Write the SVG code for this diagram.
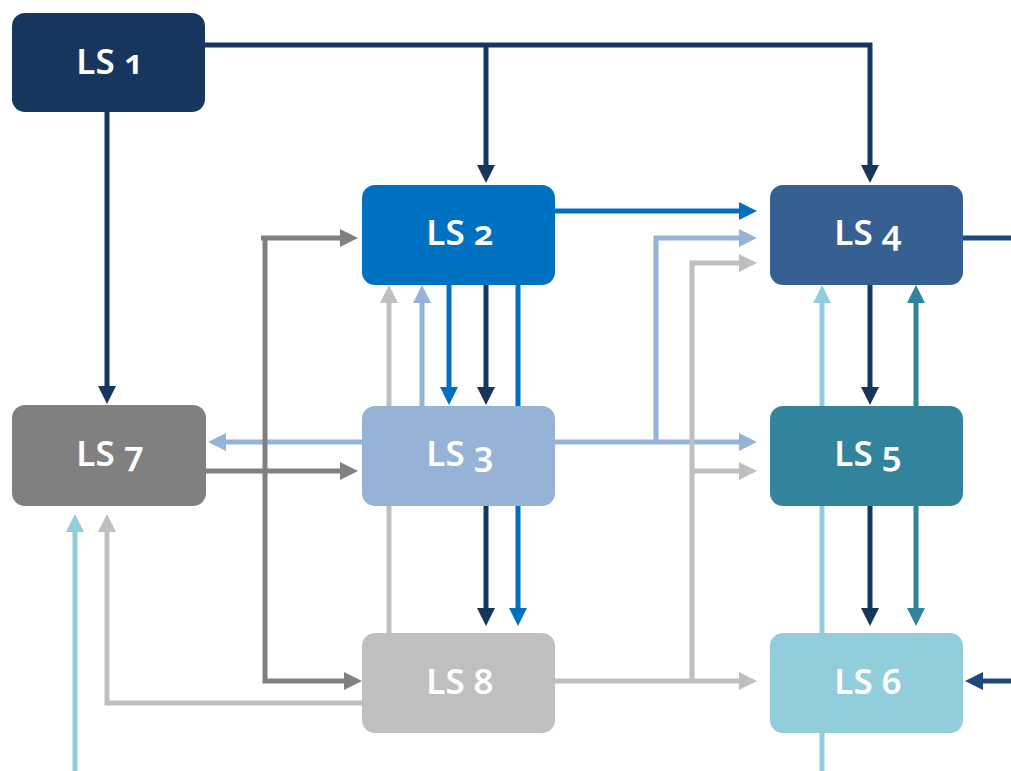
<svg xmlns="http://www.w3.org/2000/svg" width="1011" height="771" viewBox="0 0 1011 771">
  <style>
    .c { fill: none; stroke-width: 5; stroke-linejoin: miter; }
    .node text { font-family: "Noto Sans", "Open Sans", sans-serif; font-weight: 600; font-size: 35px; fill: #ffffff; text-anchor: middle; font-variant-numeric: oldstyle-nums; font-feature-settings: "onum" 1; }
    .navy { stroke: #17365D; }
    .blue { stroke: #0070C0; }
    .lblue { stroke: #95B3D7; }
    .teal { stroke: #31849B; }
    .cyan { stroke: #92CDDC; }
    .dgray { stroke: #808080; }
    .lgray { stroke: #BFBFBF; }
    .steel { stroke: #1F497D; }
  </style>
  <defs>
    <marker id="a-navy" viewBox="0 0 18 18" markerWidth="18" markerHeight="18" refX="8" refY="9" orient="auto" markerUnits="userSpaceOnUse"><path d="M0,0 L18,9 L0,18 z" fill="#17365D"/></marker>
    <marker id="a-blue" viewBox="0 0 18 18" markerWidth="18" markerHeight="18" refX="8" refY="9" orient="auto" markerUnits="userSpaceOnUse"><path d="M0,0 L18,9 L0,18 z" fill="#0070C0"/></marker>
    <marker id="a-lblue" viewBox="0 0 18 18" markerWidth="18" markerHeight="18" refX="8" refY="9" orient="auto" markerUnits="userSpaceOnUse"><path d="M0,0 L18,9 L0,18 z" fill="#95B3D7"/></marker>
    <marker id="a-teal" viewBox="0 0 18 18" markerWidth="18" markerHeight="18" refX="8" refY="9" orient="auto" markerUnits="userSpaceOnUse"><path d="M0,0 L18,9 L0,18 z" fill="#31849B"/></marker>
    <marker id="a-cyan" viewBox="0 0 18 18" markerWidth="18" markerHeight="18" refX="8" refY="9" orient="auto" markerUnits="userSpaceOnUse"><path d="M0,0 L18,9 L0,18 z" fill="#92CDDC"/></marker>
    <marker id="a-dgray" viewBox="0 0 18 18" markerWidth="18" markerHeight="18" refX="8" refY="9" orient="auto" markerUnits="userSpaceOnUse"><path d="M0,0 L18,9 L0,18 z" fill="#808080"/></marker>
    <marker id="a-lgray" viewBox="0 0 18 18" markerWidth="18" markerHeight="18" refX="8" refY="9" orient="auto" markerUnits="userSpaceOnUse"><path d="M0,0 L18,9 L0,18 z" fill="#BFBFBF"/></marker>
    <marker id="a-steel" viewBox="0 0 18 18" markerWidth="18" markerHeight="18" refX="8" refY="9" orient="auto" markerUnits="userSpaceOnUse"><path d="M0,0 L18,9 L0,18 z" fill="#1F497D"/></marker>
  </defs>

  <g id="connectors">
    <!-- LS 1 outputs -->
    <path class="c navy" d="M205,45 H870 V173" marker-end="url(#a-navy)"/>
    <path class="c navy" d="M486,45 V173" marker-end="url(#a-navy)"/>
    <path class="c navy" d="M107,112 V394" marker-end="url(#a-navy)"/>
    <path class="c navy" d="M486,285 V395" marker-end="url(#a-navy)"/>
    <path class="c navy" d="M486,506 V616" marker-end="url(#a-navy)"/>

    <!-- LS 2 outputs -->
    <path class="c blue" d="M555,211 H747" marker-end="url(#a-blue)"/>
    <path class="c blue" d="M449,285 V395" marker-end="url(#a-blue)"/>
    <path class="c blue" d="M518,285 V616" marker-end="url(#a-blue)"/>

    <!-- LS 3 outputs -->
    <path class="c lblue" d="M555,442 H747" marker-end="url(#a-lblue)"/>
    <path class="c lblue" d="M656,442 V238 H747" marker-end="url(#a-lblue)"/>
    <path class="c lblue" d="M362,442 H218" marker-end="url(#a-lblue)"/>
    <path class="c lblue" d="M422,406 V295" marker-end="url(#a-lblue)"/>

    <!-- LS 7 outputs -->
    <path class="c dgray" d="M206,471 H348" marker-end="url(#a-dgray)"/>
    <path class="c dgray" d="M261,238 H348" marker-end="url(#a-dgray)"/>
    <path class="c dgray" d="M265,238 V681 H352" marker-end="url(#a-dgray)"/>

    <!-- LS 8 outputs -->
    <path class="c lgray" d="M389,633 V295" marker-end="url(#a-lgray)"/>
    <path class="c lgray" d="M555,681 H747" marker-end="url(#a-lgray)"/>
    <path class="c lgray" d="M692,681 V263 H747" marker-end="url(#a-lgray)"/>
    <path class="c lgray" d="M692,471 H747" marker-end="url(#a-lgray)"/>
    <path class="c lgray" d="M362,703 H107 V524" marker-end="url(#a-lgray)"/>

    <!-- LS 4 / LS 5 / LS 6 column -->
    <path class="c navy" d="M870,285 V395" marker-end="url(#a-navy)"/>
    <path class="c navy" d="M870,506 V616" marker-end="url(#a-navy)"/>
    <path class="c teal" d="M916,406 V295" marker-end="url(#a-teal)"/>
    <path class="c teal" d="M916,506 V616" marker-end="url(#a-teal)"/>
    <path class="c cyan" d="M822,771 V295" marker-end="url(#a-cyan)"/>
    <path class="c cyan" d="M75,771 V524" marker-end="url(#a-cyan)"/>

    <!-- external links -->
    <path class="c steel" d="M963,238 H1011"/>
    <path class="c steel" d="M1011,681 H975" marker-end="url(#a-steel)"/>
  </g>

  <g id="ls1" class="node">
    <rect x="12" y="13" width="193" height="99" rx="13" fill="#17365D"/>
    <text x="110" y="74">LS 1</text>
  </g>
  <g id="ls2" class="node">
    <rect x="362" y="185" width="193" height="100" rx="13" fill="#0070C0"/>
    <text x="460" y="245">LS 2</text>
  </g>
  <g id="ls3" class="node">
    <rect x="362" y="406" width="193" height="100" rx="13" fill="#95B3D7"/>
    <text x="460" y="466">LS 3</text>
  </g>
  <g id="ls4" class="node">
    <rect x="770" y="185" width="193" height="100" rx="13" fill="#366092"/>
    <text x="868" y="245">LS 4</text>
  </g>
  <g id="ls5" class="node">
    <rect x="770" y="406" width="193" height="100" rx="13" fill="#31849B"/>
    <text x="868" y="466">LS 5</text>
  </g>
  <g id="ls6" class="node">
    <rect x="770" y="633" width="193" height="100" rx="13" fill="#92CDDC"/>
    <text x="868" y="694">LS 6</text>
  </g>
  <g id="ls7" class="node">
    <rect x="12" y="405" width="194" height="101" rx="13" fill="#808080"/>
    <text x="110" y="466">LS 7</text>
  </g>
  <g id="ls8" class="node">
    <rect x="362" y="633" width="193" height="100" rx="13" fill="#BFBFBF"/>
    <text x="460" y="694">LS 8</text>
  </g>
</svg>
